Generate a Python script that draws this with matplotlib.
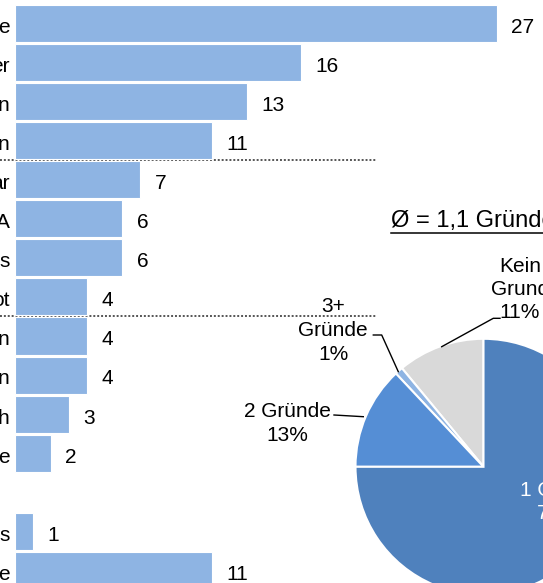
import matplotlib
matplotlib.use("Agg")
import matplotlib.pyplot as plt
import numpy as np
from matplotlib.lines import Line2D

plt.rcParams["font.family"] = ["Liberation Sans", "DejaVu Sans"]

# ---- bar data (upper block + lower block after a blank row) ----
main_labels = ["e", "er", "n", "n", "ar", "A", "s", "ot", "n", "n", "h", "e"]
main_values = [27, 16, 13, 11, 7, 6, 6, 4, 4, 4, 3, 2]
extra_labels = ["s", "e"]
extra_values = [1, 11]
separators_after = [3, 7]   # dotted rules after these rows

# ---- pie data ----
pie_labels = ["Kein\nGrund\n11%", "3+\nGründe\n1%", "2 Gründe\n13%", "1 Grund\n75%"]
pie_values = [11, 1, 13, 75]
pie_colors = ["#D9D9D9", "#8EB4E3", "#558ED5", "#4F81BD"]
title_text = "Ø = 1,1 Gründe"

BAR_COLOR = "#8EB4E3"
FS = 15

W, H = 543, 583
fig = plt.figure(figsize=(W / 100, H / 100), dpi=100)

# ---- bar chart axes spanning the whole canvas ----
ax = fig.add_axes([0, 0, 1, 1])
px_per_unit = 17.84
x0_px = 15.3
ax.set_xlim(-x0_px / px_per_unit, (W - x0_px) / px_per_unit)
row0, pitch = 23.2, 39.1
ax.set_ylim((H - row0) / pitch, -row0 / pitch)
ax.axis("off")

labels = main_labels + extra_labels
values = main_values + extra_values
positions = list(range(len(main_values))) + [len(main_values) + 1 + i for i in range(len(extra_values))]

ax.barh(positions, values, height=0.95, color=BAR_COLOR, edgecolor="white",
        linewidth=0.8, zorder=3)

for pos, val, lab in zip(positions, values, labels):
    ax.annotate(str(val), xy=(val, pos), xytext=(10.4, -2.8), textcoords="offset points",
                ha="left", va="center", fontsize=FS, color="#000000")
    ax.annotate(lab, xy=(0, pos), xytext=(-4.0, -2.8), textcoords="offset points",
                ha="right", va="center", fontsize=FS, color="#000000")

sep_right = (377 - x0_px) / px_per_unit
for s in separators_after:
    ax.plot([ax.get_xlim()[0], sep_right], [s + 0.5, s + 0.5], color="#555555",
            linestyle=(0, (1, 1)), linewidth=1.4, zorder=1)

# ---- pie chart ----
cx, cy, r = 483.5, 466.8, 128.0
pax = fig.add_axes([(cx - r) / W, (H - cy - r) / H, 2 * r / W, 2 * r / H])
wedges, _ = pax.pie(pie_values, colors=pie_colors, startangle=90, counterclock=True,
                    radius=1, wedgeprops=dict(edgecolor="white", linewidth=1.5))
pax.set_xlim(-1, 1)
pax.set_ylim(-1, 1)
pax.axis("off")


def to_pie(px, py):
    return ((px - cx) / r, (cy - py) / r)


label_pos = [to_pie(520, 289.5), to_pie(333, 330.5), to_pie(287, 423.5), to_pie(558, 502)]
label_col = ["#000000", "#000000", "#000000", "#FFFFFF"]
for lab, (u, v), col in zip(pie_labels, label_pos, label_col):
    pax.text(u, v, lab, ha="center", va="center", fontsize=FS, color=col,
             linespacing=1.3, clip_on=False)

leaders = [
    [(441.7, 346.7), (493.3, 318.3), (500, 318.3)],
    [(373.3, 335.0), (381.7, 335.0), (398.3, 371.7)],
    [(334.0, 415.0), (363.3, 416.7)],
]
for pts in leaders:
    xs, ys = zip(*[to_pie(px, py) for px, py in pts])
    pax.plot(xs, ys, color="#000000", linewidth=1.0, clip_on=False)

# ---- underlined heading ----
fig.text(391 / W, (H - 226.7) / H, title_text, ha="left", va="baseline",
         fontsize=17, color="#000000")
fig.add_artist(Line2D([391 / W, 1.05], [(H - 232.5) / H] * 2, transform=fig.transFigure,
                      color="#000000", linewidth=1.1))

fig.savefig("out.png", dpi=100)
